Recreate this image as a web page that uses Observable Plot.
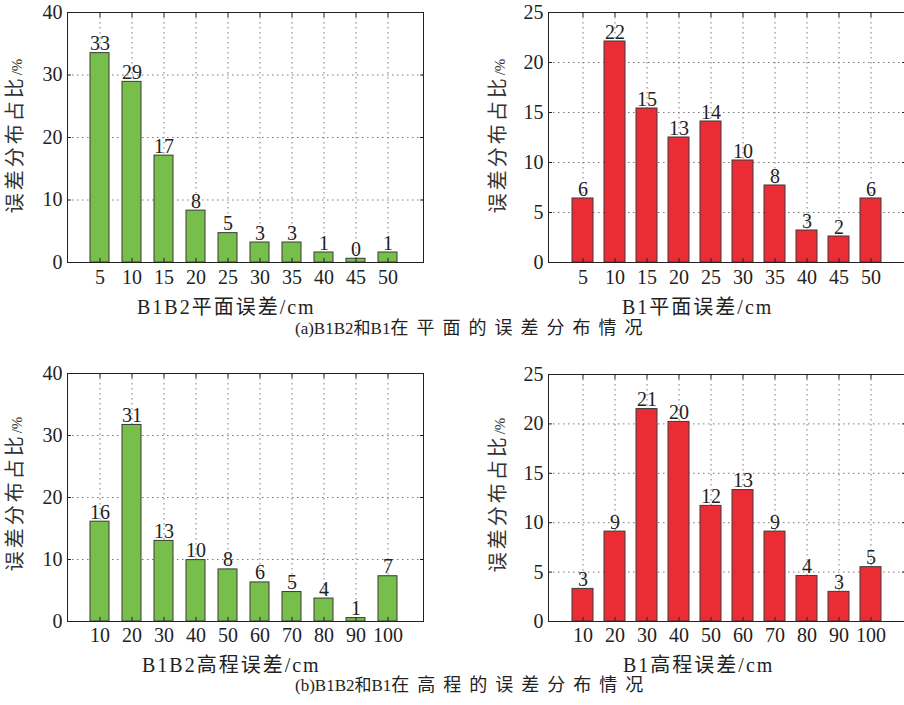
<!DOCTYPE html>
<html><head><meta charset="utf-8">
<script src="https://cdn.jsdelivr.net/npm/d3@7"></script>
<script src="https://cdn.jsdelivr.net/npm/@observablehq/plot@0.6"></script>
<style>
html,body{margin:0;padding:0;background:#fff;overflow:hidden}
#root{position:relative;width:904px;height:705px;overflow:hidden;background:#fff;font-family:"Liberation Serif","Times New Roman",Tinos,"DejaVu Serif","Noto Sans CJK SC",serif;color:#222}
.panel{position:absolute}
.t{position:absolute;white-space:nowrap;line-height:1}
</style></head><body><div id="root"></div>
<script>
// ---- data ----
const planeCats = ["5","10","15","20","25","30","35","40","45","50"];
const heightCats = ["10","20","30","40","50","60","70","80","90","100"];

const b1b2PlaneVals   = [33.5, 28.9, 17.1, 8.3, 4.7, 3.2, 3.2, 1.6, 0.6, 1.6];
const b1b2PlaneLabels = ["33","29","17","8","5","3","3","1","0","1"];

const b1PlaneVals   = [6.4, 22.1, 15.4, 12.5, 14.1, 10.2, 7.7, 3.2, 2.6, 6.4];
const b1PlaneLabels = ["6","22","15","13","14","10","8","3","2","6"];

const b1b2HeightVals   = [16.1, 31.7, 13.0, 9.9, 8.4, 6.3, 4.75, 3.7, 0.55, 7.3];
const b1b2HeightLabels = ["16","31","13","10","8","6","5","4","1","7"];

const b1HeightVals   = [3.3, 9.1, 21.5, 20.2, 11.7, 13.3, 9.1, 4.6, 3.0, 5.5];
const b1HeightLabels = ["3","9","21","20","12","13","9","4","3","5"];

const ticks40 = [0, 10, 20, 30, 40];
const ticks25 = [0, 5, 10, 15, 20, 25];

const yLabel = "误差分布占比/%";
const xTitles = ["B1B2平面误差/cm", "B1平面误差/cm", "B1B2高程误差/cm", "B1高程误差/cm"];
const captionA = ["(a)B1B2和B1", "在平面的误差分布情况"];
const captionB = ["(b)B1B2和B1", "在高程的误差分布情况"];

const GREEN = "#77be4b", RED = "#ec2c34";
const FONT = '"Liberation Serif","Times New Roman",Tinos,"DejaVu Serif","Noto Sans CJK SC",serif';
const root = document.getElementById("root");

function panel(o) {
  const data = o.cats.map((c, i) => ({cat: c, val: o.vals[i], label: o.labels[i]}));
  const grid = {stroke: "#7a7a7a", strokeOpacity: 1, strokeDasharray: "1.5,3.5"};
  const chart = Plot.plot({
    width: o.width, height: o.height,
    marginLeft: o.mL, marginRight: o.mR, marginTop: o.mT, marginBottom: o.mB,
    style: {fontSize: "20px", fontFamily: FONT, color: "#222", background: "transparent", overflow: "visible"},
    x: {type: "band", domain: o.cats, paddingInner: o.pI, paddingOuter: o.pO, align: o.align, label: null},
    y: {domain: [0, o.ticks[o.ticks.length - 1]], label: null},
    marks: [
      Plot.gridX({...grid}),
      Plot.gridY({...grid, ticks: o.ticks}),
      Plot.barY(data, {x: "cat", y: "val", fill: o.fill, stroke: "#3a3a3a", strokeWidth: 1}),
      Plot.text(data, {x: "cat", y: "val", text: "label", lineAnchor: "bottom", dy: -3, fill: "#222", fontSize: 20, fontFamily: FONT}),
      Plot.axisX({anchor: "bottom", tickSize: -4, tickPadding: o.xPad, label: null, fontSize: 20, fontFamily: FONT}),
      Plot.axisX({anchor: "top", tickSize: -4, tickFormat: () => "", label: null}),
      Plot.axisY({anchor: "left", ticks: o.ticks, tickSize: -4, tickPadding: 9, label: null, fontSize: 20, fontFamily: FONT}),
      Plot.axisY({anchor: "right", ticks: o.ticks, tickSize: -4, tickFormat: () => "", label: null}),
      Plot.frame({stroke: "#222"})
    ]
  });
  chart.classList.add("panel");
  chart.style.left = o.left + "px";
  chart.style.top = o.top + "px";
  root.appendChild(chart);
}

const green = {pI: 0.415, pO: 0.69, align: 0.46, fill: GREEN, width: 450, height: 300, mL: 67, mR: 27};
const red = {pI: 0.33, pO: 0.665, align: 0.5, fill: RED, width: 460, height: 300, mL: 98, mR: 5};

panel({...green, cats: planeCats, vals: b1b2PlaneVals, labels: b1b2PlaneLabels, ticks: ticks40, left: 0, top: 0, mT: 12, mB: 38, xPad: 11});
panel({...red, cats: planeCats, vals: b1PlaneVals, labels: b1PlaneLabels, ticks: ticks25, left: 450, top: 0, mT: 12, mB: 38, xPad: 11});
panel({...green, cats: heightCats, vals: b1b2HeightVals, labels: b1b2HeightLabels, ticks: ticks40, left: 0, top: 360, mT: 13, mB: 39, xPad: 10});
panel({...red, cats: heightCats, vals: b1HeightVals, labels: b1HeightLabels, ticks: ticks25, left: 450, top: 360, mT: 14, mB: 39, xPad: 10});

function addText(html, x, y, style, rotate) {
  const d = document.createElement("div");
  d.className = "t";
  d.innerHTML = html;
  d.style.left = x + "px";
  d.style.top = y + "px";
  d.style.transform = rotate ? "translate(-50%,-50%) rotate(-90deg)" : "translateY(-50%)";
  Object.assign(d.style, style);
  root.appendChild(d);
}

const yl = yLabel.replace("/%", "") + '<span style="font-size:15px;letter-spacing:0">/%</span>';
[[15, 136], [498, 136], [15, 494], [498, 495]].forEach(([x, y]) =>
  addText(yl, x, y, {fontSize: "20px", letterSpacing: "3px", color: "#333"}, true));

[[137, 307], [622, 307], [142, 665], [623, 665]].forEach(([x, y], i) =>
  addText(xTitles[i], x, y, {fontSize: "20px", letterSpacing: "2px", color: "#222"}, false));

function cap(parts) {
  return `<span style="font-size:17px;letter-spacing:0">${parts[0]}</span><span style="font-size:18px;letter-spacing:8px">${parts[1]}</span>`;
}
addText(cap(captionA), 295, 328, {color: "#222"}, false);
addText(cap(captionB), 295, 685, {color: "#222"}, false);
</script>
</body></html>
